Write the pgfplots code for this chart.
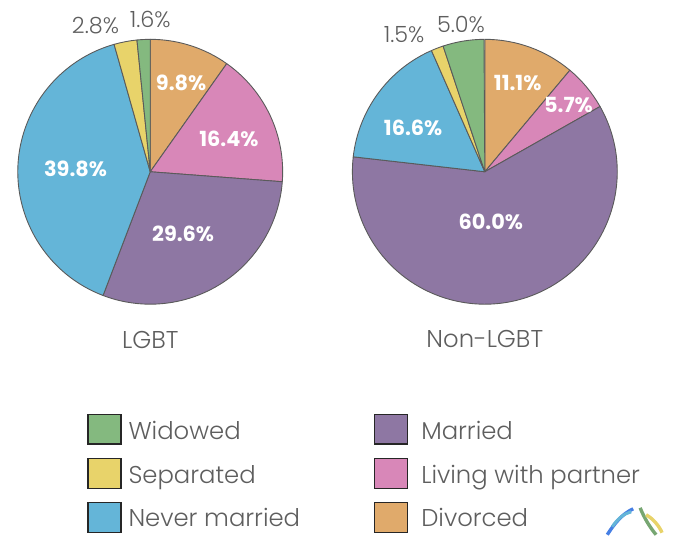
\documentclass[border=0pt]{standalone}
\usepackage{pgfplots}
\usepackage{pgfplotstable}
\pgfplotsset{compat=1.18}
\usepackage{fontspec}
\setmainfont{Poppins}[UprightFont=* Light, BoldFont=* Bold]
\definecolor{cWid}{HTML}{84B97F}
\definecolor{cSep}{HTML}{E8D36A}
\definecolor{cNev}{HTML}{64B5D8}
\definecolor{cMar}{HTML}{8E77A3}
\definecolor{cLiv}{HTML}{D887B8}
\definecolor{cDiv}{HTML}{E0AA6B}
\definecolor{edge}{HTML}{5A5A5A}
\definecolor{txt}{HTML}{5E5E5E}

% slices listed clockwise from 12 o'clock
\pgfplotstableread{
category value color
Divorced 9.8 cDiv
Living 16.4 cLiv
Married 29.6 cMar
Never 39.8 cNev
Separated 2.8 cSep
Widowed 1.6 cWid
}\lgbt
\pgfplotstableread{
category value color
Divorced 11.1 cDiv
Living 5.7 cLiv
Married 60.0 cMar
Never 16.6 cNev
Separated 1.5 cSep
Widowed 5.0 cWid
}\nonlgbt

\newcommand\piechart[3]{%
  \def\angA{90}%
  \pgfplotsforeachungrouped \i in {0,...,5}{%
    \pgfplotstablegetelem{\i}{value}\of{#1}\let\myval\pgfplotsretval
    \pgfplotstablegetelem{\i}{color}\of{#1}\let\mycol\pgfplotsretval
    \pgfmathsetmacro\angB{\angA-3.6*\myval}%
    \edef\tmp{\noexpand\filldraw[fill=\mycol, draw=edge, line width=0.9pt, line join=round] (axis cs:#2,#3) -- ++(\angA:133bp) arc[start angle=\angA, end angle=\angB, radius=133bp] -- cycle;}%
    \tmp
    \let\angA\angB
  }%
}

\begin{document}
\begin{tikzpicture}
\begin{axis}[x=1bp, y=1bp, xmin=0, xmax=673, ymin=0, ymax=538,
  hide axis, clip=false, axis line style={draw=none}]
\path (axis cs:0,0) rectangle (axis cs:673,538);
\piechart{\lgbt}{148}{365.5}
\piechart{\nonlgbt}{484}{365.5}

% inner labels
\begin{scope}[every node/.style={anchor=base, text=white, font=\fontsize{21}{25}\selectfont\bfseries}]
\node at (axis cs:179,447) {9.8\%};
\node at (axis cs:227,391) {16.4\%};
\node at (axis cs:181,295) {29.6\%};
\node at (axis cs:73,361) {39.8\%};
\node at (axis cs:517,447) {11.1\%};
\node at (axis cs:568,425) {5.7\%};
\node at (axis cs:490,308) {60.0\%};
\node at (axis cs:412,402) {16.6\%};
\end{scope}
% outer labels
\begin{scope}[every node/.style={anchor=base, text=txt, font=\fontsize{22.5}{26}\selectfont}]
\node at (axis cs:93,504) {2.8\%};
\node at (axis cs:148,510) {1.6\%};
\node at (axis cs:403,495) {1.5\%};
\node at (axis cs:460,505) {5.0\%};
\end{scope}
% group titles
\begin{scope}[every node/.style={anchor=base, text=txt, font=\fontsize{24.5}{28}\selectfont}]
\node at (axis cs:148,188) {LGBT};
\node at (axis cs:484,189) {Non-LGBT};
\end{scope}

% legend
\begin{scope}[every node/.style={anchor=base west, text=txt, font=\fontsize{24.5}{28}\selectfont, inner sep=0pt}]
\filldraw[fill=cWid, draw=black!85, line width=1.3pt] (axis cs:85.5,92) rectangle (axis cs:118.5,122);
\node at (axis cs:126,97) {Widowed};
\filldraw[fill=cSep, draw=black!85, line width=1.3pt] (axis cs:85.5,47.5) rectangle (axis cs:118.5,77.5);
\node at (axis cs:126,52.5) {Separated};
\filldraw[fill=cNev, draw=black!85, line width=1.3pt] (axis cs:85.5,3) rectangle (axis cs:118.5,33);
\node at (axis cs:126,9) {Never married};
\filldraw[fill=cMar, draw=black!85, line width=1.3pt] (axis cs:373.5,92) rectangle (axis cs:406.5,122);
\node at (axis cs:420,97) {Married};
\filldraw[fill=cLiv, draw=black!85, line width=1.3pt] (axis cs:373.5,47.5) rectangle (axis cs:406.5,77.5);
\node at (axis cs:420,52.5) {Living with partner};
\filldraw[fill=cDiv, draw=black!85, line width=1.3pt] (axis cs:373.5,3) rectangle (axis cs:406.5,33);
\node at (axis cs:420,9) {Divorced};
\end{scope}

% small logo
\draw[line width=3.4bp, color=cNev!70!blue] (axis cs:607,1) .. controls (axis cs:614,12) and (axis cs:622,22) .. (axis cs:633,27);
\draw[line width=3bp, color=cNev] (axis cs:612,9) .. controls (axis cs:618,18) and (axis cs:624,22) .. (axis cs:631,24);
\draw[line width=3.4bp, color=cWid!90!black] (axis cs:640,28) .. controls (axis cs:644,18) and (axis cs:650,8) .. (axis cs:656,1);
\draw[line width=3.4bp, color=cSep] (axis cs:646,21) .. controls (axis cs:653,17) and (axis cs:659,10) .. (axis cs:662,3);
\end{axis}
\end{tikzpicture}
\end{document}
